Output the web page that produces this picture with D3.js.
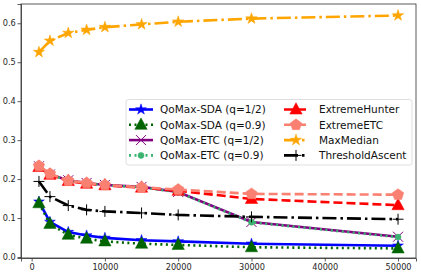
<!DOCTYPE html>
<html lang="en">
<head>
<meta charset="utf-8">
<title>QoMax comparison</title>
<script src="https://cdn.jsdelivr.net/npm/d3@7"></script>
<style>
  body { margin: 0; background: #fff; }
  .axis text { font-family: "DejaVu Sans", sans-serif; font-size: 8.2px; fill: #262626; }
  .axis path, .axis line { stroke: #333; stroke-width: 0.8; }
  .legtext { font-family: "DejaVu Sans", sans-serif; font-size: 10.5px; fill: #111; }
</style>
</head>
<body>
<div id="chart"></div>
<script>

var budgets = [1000, 2500, 5000, 7500, 10000, 15000, 20000, 30000, 50000];

var sdaHalf   = [0.142, 0.090, 0.064, 0.055, 0.049, 0.043, 0.040, 0.034, 0.029];
var sda09     = [0.138, 0.085, 0.057, 0.047, 0.040, 0.034, 0.031, 0.025, 0.022];
var etcHalf   = [0.233, 0.212, 0.197, 0.190, 0.185, 0.180, 0.167, 0.090, 0.052];
var etc09     = [0.232, 0.211, 0.196, 0.189, 0.184, 0.179, 0.166, 0.089, 0.051];
var exHunter  = [0.231, 0.211, 0.195, 0.188, 0.184, 0.178, 0.170, 0.149, 0.133];
var exETC     = [0.234, 0.214, 0.196, 0.190, 0.185, 0.179, 0.173, 0.162, 0.160];
var maxMedian = [0.526, 0.555, 0.575, 0.583, 0.590, 0.597, 0.604, 0.612, 0.620];
var thrAscent = [0.194, 0.155, 0.132, 0.121, 0.117, 0.113, 0.108, 0.103, 0.097];

var xTicks = [0, 10000, 20000, 30000, 40000, 50000];
var yTicks = [0.0, 0.1, 0.2, 0.3, 0.4, 0.5, 0.6];

var series = [
  {name: "QoMax-SDA (q=1/2)", values: sdaHalf,   color: "#0000ff", dash: null,       marker: "star",     size: 10},
  {name: "QoMax-SDA (q=0.9)", values: sda09,     color: "#006400", dash: "2,3.5",    marker: "triangle", size: 13},
  {name: "QoMax-ETC (q=1/2)", values: etcHalf,   color: "#800080", dash: null,       marker: "x",        size: 10},
  {name: "QoMax-ETC (q=0.9)", values: etc09,     color: "#3cb371", dash: "2,3.5",    marker: "circle",   size: 6},
  {name: "ExtremeHunter",     values: exHunter,  color: "#ff0000", dash: "9,4",      marker: "triangle", size: 13},
  {name: "ExtremeETC",        values: exETC,     color: "#fa8072", dash: "9,4",      marker: "pentagon", size: 12},
  {name: "MaxMedian",         values: maxMedian, color: "#ffa500", dash: "14,4,2.5,4", marker: "star",   size: 10.5},
  {name: "ThresholdAscent",   values: thrAscent, color: "#000000", dash: "14,4,2.5,4", marker: "plus",   size: 11}
];

var W = 421, H = 277;
var margin = {top: 4, right: 5, bottom: 19, left: 21};

var x = d3.scaleLinear().domain([-1450, 52450]).range([margin.left, W - margin.right]);
var y = d3.scaleLinear().domain([-0.0026, 0.6495]).range([H - margin.bottom, margin.top]);

var svg = d3.select("#chart").append("svg").attr("width", W).attr("height", H);

// markers
function markerPath(type, s) {
  var r = s / 2;
  if (type === "star") return d3.symbol().type(d3.symbolStar).size(s * s * 0.36)();
  if (type === "triangle") {
    return "M0," + (-r * 1.05) + "L" + (r * 0.95) + "," + (r * 0.7) + "L" + (-r * 0.95) + "," + (r * 0.7) + "Z";
  }
  if (type === "circle") return d3.symbol().type(d3.symbolCircle).size(Math.PI * r * r)();
  if (type === "pentagon") {
    var p = [];
    for (var i = 0; i < 5; i++) {
      var a = -Math.PI / 2 + i * 2 * Math.PI / 5;
      p.push([r * Math.cos(a), r * Math.sin(a)]);
    }
    return "M" + p.join("L") + "Z";
  }
  if (type === "x") return "M" + (-r) + "," + (-r) + "L" + r + "," + r + "M" + (-r) + "," + r + "L" + r + "," + (-r);
  if (type === "plus") return "M" + (-r) + ",0L" + r + ",0M0," + (-r) + "L0," + r;
}

function drawMarker(g, type, s, color, cx, cy) {
  var stroked = (type === "x" || type === "plus");
  g.append("path")
    .attr("d", markerPath(type, s))
    .attr("transform", "translate(" + cx + "," + cy + ")")
    .attr("fill", stroked ? "none" : color)
    .attr("stroke", color)
    .attr("stroke-width", stroked ? 1 : 0.5);
}

// axes
svg.append("g")
  .attr("class", "axis")
  .attr("transform", "translate(0," + (H - margin.bottom) + ")")
  .call(d3.axisBottom(x).tickValues(xTicks).tickSize(3.5).tickPadding(2.5).tickFormat(d3.format("d")));

svg.append("g")
  .attr("class", "axis")
  .attr("transform", "translate(" + margin.left + ",0)")
  .call(d3.axisLeft(y).tickValues(yTicks).tickSize(3.5).tickPadding(1.8).tickFormat(d3.format(".1f")));

// frame
svg.append("rect")
  .attr("x", margin.left).attr("y", margin.top)
  .attr("width", W - margin.right - margin.left)
  .attr("height", H - margin.bottom - margin.top)
  .attr("fill", "none").attr("stroke", "#333").attr("stroke-width", 0.8);

var line = d3.line()
  .x(function(d, i) { return x(budgets[i]); })
  .y(function(d) { return y(d); });

var plot = svg.append("g");

series.forEach(function(s) {
  var g = plot.append("g");
  g.append("path")
    .attr("d", line(s.values))
    .attr("fill", "none")
    .attr("stroke", s.color)
    .attr("stroke-width", 2.6)
    .attr("stroke-dasharray", s.dash);
  s.values.forEach(function(v, i) {
    drawMarker(g, s.marker, s.size, s.color, x(budgets[i]), y(v));
  });
});

// legend
var leg = svg.append("g").attr("transform", "translate(126,99.5)");
leg.append("rect")
  .attr("width", 286).attr("height", 65.5).attr("rx", 2.5)
  .attr("fill", "#fff").attr("fill-opacity", 0.8)
  .attr("stroke", "#d5d5d5").attr("stroke-width", 0.8);

series.forEach(function(s, i) {
  var col = Math.floor(i / 4), row = i % 4;
  var hx = col === 0 ? 3 : 158;
  var tx = col === 0 ? 34 : 193;
  var hy = 10 + row * 15.3;
  var hw = 24;
  leg.append("line")
    .attr("x1", hx).attr("x2", hx + hw)
    .attr("y1", hy).attr("y2", hy)
    .attr("stroke", s.color).attr("stroke-width", 2.6)
    .attr("stroke-dasharray", s.dash);
  drawMarker(leg, s.marker, s.size, s.color, hx + hw / 2, hy);
  leg.append("text")
    .attr("class", "legtext")
    .attr("x", tx).attr("y", hy + 3.8)
    .text(s.name);
});

</script>
</body>
</html>
